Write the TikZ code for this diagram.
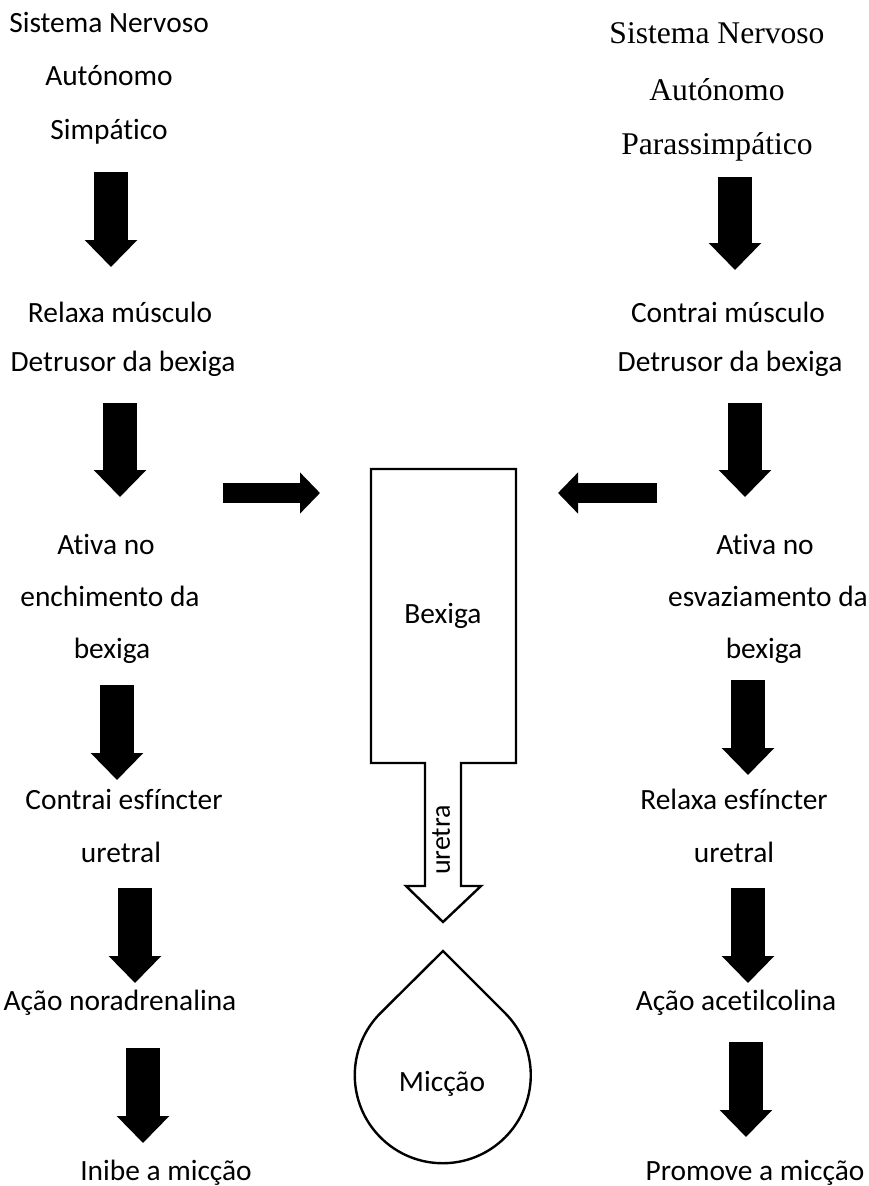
\documentclass[tikz,border=0pt]{standalone}
\usepackage{fontspec}
\setmainfont{Carlito}[Ligatures=NoCommon]
\newfontfamily\timesfont{Liberation Serif}
\usetikzlibrary{arrows.meta}

\begin{document}
\begin{tikzpicture}[x=1pt,y=-1pt,font=\fontsize{29.4}{35}\selectfont]
  \tikzstyle{txt}=[inner sep=0pt,anchor=base]
  \tikzstyle{serif}=[inner sep=0pt,anchor=base,font=\fontsize{31.6}{38}\selectfont\timesfont]
  \tikzstyle{fatdown}=[line width=34pt,-{Triangle[length=27pt,width=51pt]}]
  \tikzstyle{fatside}=[line width=20pt,-{Triangle[length=20pt,width=40pt]}]
  \tikzstyle{outline}=[draw,line width=2.4pt,line join=miter]

  \useasboundingbox (0,0) rectangle (868,1186);

  % simpatico (left column)
  \node[txt] (s1) at (109,32) {Sistema Nervoso};
  \node[txt] (s2) at (109,85) {Autónomo};
  \node[txt] (s3) at (109,139) {Simpático};
  \node[txt] (s4) at (120,322) {Relaxa músculo};
  \node[txt] (s5) at (123,371) {Detrusor da bexiga};
  \node[txt] (s6) at (106,554) {Ativa no};
  \node[txt] (s7) at (110,606) {enchimento da};
  \node[txt] (s8) at (112,658) {bexiga};
  \node[txt] (s9) at (124,809) {Contrai esfíncter};
  \node[txt] (s10) at (121,862) {uretral};
  \node[txt] (s11) at (120,1010) {Ação noradrenalina};
  \node[txt] (s12) at (166,1180) {Inibe a micção};

  % parassimpatico (right column)
  \node[serif] (p1) at (717,43) {Sistema Nervoso};
  \node[serif] (p2) at (717,100) {Autónomo};
  \node[serif] (p3) at (717,154) {Parassimpático};
  \node[txt] (p4) at (728,322) {Contrai músculo};
  \node[txt] (p5) at (730,371) {Detrusor da bexiga};
  \node[txt] (p6) at (765,554) {Ativa no};
  \node[txt] (p7) at (768,606) {esvaziamento da};
  \node[txt] (p8) at (764,658) {bexiga};
  \node[txt] (p9) at (734,809) {Relaxa esfíncter};
  \node[txt] (p10) at (734,862) {uretral};
  \node[txt] (p11) at (736,1010) {Ação acetilcolina};
  \node[txt] (p12) at (755,1180) {Promove a micção};

  % arrow ends
  \coordinate (sa1) at (111,172);  \coordinate (sb1) at (111,267);
  \coordinate (sa2) at (120,403);  \coordinate (sb2) at (120,497);
  \coordinate (sa3) at (117,685);  \coordinate (sb3) at (117,780);
  \coordinate (sa4) at (135,888);  \coordinate (sb4) at (135,983);
  \coordinate (sa5) at (143,1048); \coordinate (sb5) at (143,1143);
  \coordinate (pa1) at (735,177);  \coordinate (pb1) at (735,270);
  \coordinate (pa2) at (745,403);  \coordinate (pb2) at (745,497);
  \coordinate (pa3) at (748,680);  \coordinate (pb3) at (748,775);
  \coordinate (pa4) at (748,888);  \coordinate (pb4) at (748,983);
  \coordinate (pa5) at (746,1042); \coordinate (pb5) at (746,1137);
  \coordinate (ha) at (223,493);   \coordinate (hb) at (320,493);
  \coordinate (ka) at (657,493);   \coordinate (kb) at (558,493);

  \foreach \i in {1,...,5} {
    \draw[fatdown] (sa\i) -- (sb\i);
    \draw[fatdown] (pa\i) -- (pb\i);
  }
  \draw[fatside] (ha) -- (hb);
  \draw[fatside] (ka) -- (kb);

  % bexiga + uretra
  \draw[outline] (371,469) -- (516,469) -- (516,763) -- (461,763) -- (461,886)
    -- (481,886) -- (443,922) -- (406,886) -- (425,886) -- (425,763)
    -- (371,763) -- cycle;
  \node[txt] (bex) at (443,623) {Bexiga};
  \node[inner sep=0pt,rotate=90,font=\fontsize{28}{34}\selectfont] (ure) at (441,840) {uretra};

  % gota
  \draw[outline] (443,951) -- (505,1013) arc[start angle=-45,end angle=225,radius=88] -- cycle;
  \node[txt] (mic) at (442,1091) {Micção};
\end{tikzpicture}
\end{document}
